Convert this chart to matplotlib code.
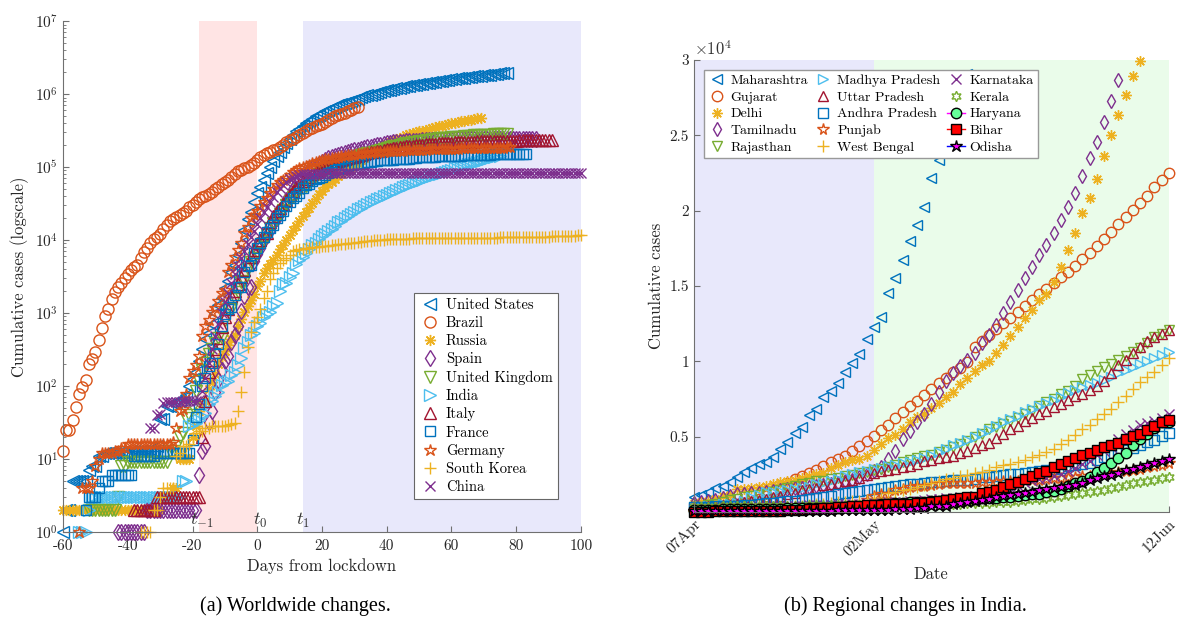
import numpy as np
import matplotlib
matplotlib.use('Agg')
import matplotlib.pyplot as plt
from matplotlib.ticker import FixedLocator, FuncFormatter, LogLocator, NullFormatter

plt.rcParams['font.family'] = ['cmr10', 'DejaVu Serif']
plt.rcParams['mathtext.fontset'] = 'cm'
plt.rcParams['axes.formatter.use_mathtext'] = True
plt.rcParams['axes.unicode_minus'] = False

# ---------------- (a) worldwide: cumulative cases vs days from lockdown ----------------
# each series: first day (relative to lockdown) and the daily cumulative counts after it
us_start = -60
us = [1, 2, 2, 5, 5, 5, 5, 5, 7,
      8, 8, 11, 11, 12, 12, 12, 12, 12, 12, 12, 12, 13, 13, 13, 13, 13, 13, 13, 13, 15, 35, 35, 53, 53, 59, 60, 62, 68,
      75, 100, 124, 158, 221, 319, 435, 541, 704, 994, 1301, 1630, 2183, 2770, 3613, 4596, 6344, 9197, 13779, 19367, 24192, 33592,
      43847, 53740, 65778, 83836, 101657, 121465, 140909, 161831, 188172, 213242,
      243622, 275367, 308650, 336802, 366317, 397121, 428654, 462780, 496535, 526396,
      555313, 580619, 607670, 636350, 667592, 699706, 732197, 759086, 784326, 811865,
      840351, 869170, 905358, 938154, 965785, 988197, 1012582, 1039909, 1069424, 1103461,
      1132539, 1158040, 1180375, 1204351, 1229331, 1257023, 1283929, 1309550, 1329260, 1347881,
      1369376, 1390406, 1417774, 1442824, 1467820, 1486757, 1508308, 1528568, 1551853, 1577147,
      1600937, 1622612, 1643499, 1662302, 1680913, 1699933, 1721750, 1746019, 1770165, 1790191,
      1811020, 1831821, 1851520, 1872660, 1897838, 1920061, 1938823, 1956421]

brazil_start = -60
brazil = [13, 25, 25, 34, 52, 77, 98, 121, 200, 234, 291, 428, 621, 904, 1128, 1546, 1924, 2247, 2554, 2985,
          3417, 3904, 4256, 4579, 5717, 6836, 7910, 9056, 10360, 11130, 12161, 14034, 16170, 18092, 19638, 20727,
          22192, 23430, 25262, 28320, 30425, 33682, 36658, 38654, 40743, 43079, 45757, 50036, 54043, 59324, 63100,
          67446, 73235, 79685, 87187, 92202, 97100, 101826, 108620, 115455, 126611, 135773, 146894, 156061, 162699,
          169594, 178214, 190137, 203165, 220291, 233511, 241080, 255368, 271885, 291579, 310087, 330890, 347398,
          363211, 374898, 391222, 411821, 438238, 465166, 498440, 514849, 526447, 555383, 584016, 614941, 645771,
          672846]

russia_start = -60
russia = [2, 2, 2, 2, 2, 2, 2, 2, 2, 2, 2, 2, 2, 2, 2, 2, 2, 2, 2, 2, 2, 2, 2, 2, 2, 2, 2, 2, 2, 2, 2,
          3, 3, 3, 4, 4, 10, 10, 10, 10, 20, 28, 45, 59, 63, 90, 114, 147, 199, 253, 306, 367, 438, 495, 658, 840,
          1036, 1264, 1534, 1836,
          2337, 2777, 3548, 4149, 4731, 5389, 6343, 7497, 8672, 10131, 11917, 13584, 15770, 18328, 21102, 24490,
          27938, 32008, 36793, 42853, 47121, 52763, 57999, 62773, 68622, 74588, 80949, 87147, 93558, 99399, 106498,
          114431, 124054, 134687, 145268, 155370, 165929, 177160, 187859, 198676, 209688, 221344, 232243, 242271,
          252245, 262843, 272043, 281752, 290678, 299941, 308705, 317554, 326448, 335882, 344481, 353427, 362342,
          370680, 379051, 387623, 396575, 405843, 414878, 423741, 432277, 440538, 449256, 458102, 467073, 476043]

spain_start = -43
spain = [1, 1, 1, 1, 1, 1, 1, 1, 1,
         2, 2, 2, 2, 2, 2, 2, 2, 2, 2, 2, 2, 2, 2, 2, 2,
         6, 13, 15, 32, 45, 84, 120, 165, 222, 259, 400, 500, 673, 1073, 1695, 2277, 2277, 5232,
         6391, 7798, 9942, 11748, 13910, 17963, 20410, 25374, 28603, 35136, 39885, 49515, 57786, 65719, 73235,
         80110, 87956, 95923, 104118, 112065, 119199, 126168, 131646, 136675, 141942, 148220, 153222, 158273,
         163027, 166831, 170099, 172541, 177633, 182816, 188068, 191726, 195944, 200210, 204178, 208389, 213024,
         215500, 217900, 220100, 222200, 224100, 225900, 227500, 229000, 230400, 231700, 232900, 234000, 235000,
         235900, 236700, 237500, 238200, 238800, 239400, 239900, 240400, 240800, 241200, 241600, 241900, 242200,
         242500, 242800, 243000, 243200, 243400, 243600, 243800, 244000, 244100, 244200, 244300, 244400, 244500,
         244600, 244700, 244800, 244900, 245000, 245100, 245200]

uk_start = -52
uk = [2, 2, 2, 2, 2, 2, 2, 2, 2, 3,
      8, 8, 9, 9, 9, 9, 9, 9, 9, 9, 9, 9, 9, 9, 9,
      13, 13, 15, 20, 23,
      36, 40, 51, 86, 116, 164, 207, 274, 322, 384, 459, 459, 802, 1144, 1145, 1551, 1960, 2642, 2716, 4014, 5067, 5745,
      6726, 8164, 9640, 11812, 14745, 17312, 19780, 22453, 25481,
      29865, 34173, 38689, 42477, 48436, 52279, 55949, 61474, 65872, 74605, 79874, 85206, 89570, 94845, 99483,
      104145, 109769, 115314, 121172, 125856, 130172, 134638, 139246, 144640, 149569, 154037, 158348, 162350,
      166441, 172481,
      178685, 183500, 187842, 191832, 196243, 202359, 207977, 212629, 216525, 220449, 224332, 227741, 230986,
      234440, 238004, 241461, 244995, 247709, 250138, 251000, 252246, 255544, 258504, 260916, 262547, 266599,
      268619, 270508, 272607, 274219, 276156,
      276900, 277985, 279856, 281661, 283311, 284868, 286194, 287399]

india_start = -55
india = [1, 1, 1, 2,
         3, 3, 3, 3, 3, 3, 3, 3, 3, 3, 3, 3, 3, 3, 3, 3, 3, 3, 3, 3, 3, 3, 3, 3, 3, 3, 3, 3,
         5, 5, 28, 30, 31, 34, 39, 43, 56, 62, 73, 82, 102, 113, 119, 142, 156, 194, 244, 330, 396, 499, 536,
         657, 727, 887, 987, 1024, 1251, 1397,
         1998, 2543, 2567, 3082, 3588, 4778, 5311, 5916, 6725, 7598, 8446, 9205, 10453, 11487, 12322, 13430,
         14352, 15722, 17615, 18539, 20080, 21370, 23077, 24530, 26283, 27890, 29451, 31324, 33062, 34863,
         36500, 38300, 40100, 42000, 44000, 46000, 48200, 50400, 52700, 55000, 57400, 59800, 62300, 64800,
         67400, 70000, 72700, 75400, 78200, 81000, 83900, 86800, 89800, 92800, 95900, 99000, 102200, 105400,
         108700, 112000, 115400, 118800, 122300, 125800, 129400, 133000, 136700, 140400, 144200]

italy_start = -38
italy = [2, 2, 2, 2, 2, 2, 2,
         3, 3, 3, 3, 3, 3, 3, 3, 3, 3, 3, 3, 3, 3,
         20, 62, 155, 229, 322, 453, 655, 888, 1128, 1694, 2036, 2502, 3089, 3858, 4636, 5883, 7375,
         9172, 10149, 12462, 12462, 17660, 21157, 24747, 27980, 31506, 35713, 41035, 47021, 53578, 59138, 63927,
         69176, 74386, 80589, 86498, 92472, 97689, 101739, 105792,
         110574, 115242, 119827, 124632, 128948, 132547, 135586, 139422, 143626, 147577, 152271, 156363, 159516,
         162488, 165155, 168941, 172434, 175925, 178972, 181228, 183957, 187327, 189973, 192994, 195351, 197675,
         199414, 201505, 203591, 205463,
         207428, 209328, 210717, 211938, 213013, 214457, 215858, 217185, 218268, 219070, 219814, 221216, 222104,
         223096, 223885, 224760, 225435, 225886, 226699, 227364, 228006, 228658, 229327, 229858, 230158, 230555,
         231139, 231732, 232248, 232664, 232997,
         233197, 233515, 233836, 234013, 234531, 234801, 234998, 235278]

france_start = -53
france = [2, 3, 3, 3, 4, 5, 5, 5,
          6, 6, 6, 6, 6, 6, 6,
          11, 11, 11, 11, 11, 11, 11,
          12, 12, 12, 12, 12, 12, 12, 12, 12, 12, 12,
          18, 38, 57, 100,
          130, 191, 204, 288, 380, 656, 957, 1134, 1217, 1792, 2289, 2289, 3672, 4480, 4513, 6650,
          7699, 9105, 10947, 12726, 14431, 16176, 19856, 22304, 25233, 29155, 32964, 37575, 40174, 44550, 52128,
          56989, 59105, 64338, 68605, 70478, 74390, 78167, 82048, 86334, 90676, 93790, 95403, 98076, 103573,
          106206, 108847, 109252, 111821, 112950, 117324, 119151, 120804, 121602, 123345, 124114, 124298, 125010,
          126835, 128442, 129581,
          130185, 130979, 131287, 131863, 132967, 137150, 137779, 138421, 138854, 139063, 139519, 140227, 140734,
          141356, 141919, 142411, 142903, 143427, 143845, 144556, 145279, 145746, 146122, 146419, 146800, 147125,
          147982, 148492, 149105, 149540, 150033,
          150361, 151000, 151616, 151984, 152455, 152946, 153140, 153506]

germany_start = -55
germany = [1, 4, 4, 4, 5,
           8, 10, 12, 12, 12, 12, 13, 13, 14, 14,
           16, 16, 16, 16, 16, 16, 16, 16, 16, 16, 16, 16, 16, 16,
           17, 27, 46, 48, 79,
           130, 159, 196, 262, 482, 670, 799, 1040, 1176, 1457, 1908, 2078, 3675, 4585, 5795, 7272, 9257, 12327,
           15320, 19848, 22213,
           24873, 29056, 32986, 37323, 43938, 50871, 57695, 62095, 66885, 71808,
           77872, 84794, 91159, 96092, 100123, 103374, 107663, 113296, 118181, 122171, 124908, 127854, 130072,
           131359, 134753, 137698, 141397, 143342, 145184, 147065, 148291, 150648, 153129, 154999, 156513, 157770,
           158758, 159912, 161539, 163009,
           164077, 164967, 165664, 166152, 167007, 168162, 169430, 170588, 171324, 171879, 172576, 173171, 174098,
           174478, 175233, 175752, 176369, 176551, 177778, 178473, 179021, 179710, 179986, 180328, 180600, 181200,
           181524, 182196, 182922, 183189, 183410,
           183594, 184121, 184472, 184924, 185450, 185750, 186109, 186506]

korea_start = -36
korea = [1, 1, 1, 1, 2, 2, 3, 4, 4, 4, 4, 11,
         12, 15, 15, 16, 19, 23, 24, 24, 27, 27, 28, 28, 28, 28, 28, 29, 30, 31, 46, 82, 156, 346, 556, 763,
         893, 1146, 1595, 2022, 2931,
         3526, 4212, 4812, 5328, 5766, 6284, 7041, 7313, 7478, 7513, 7755, 7869, 7979, 8086, 8162, 8236, 8320,
         8413, 8565, 8652, 8799, 8897, 8961, 9037, 9137, 9241, 9332, 9478, 9583, 9661, 9786,
         9887, 9976, 10062, 10156, 10237, 10284, 10331, 10384, 10423, 10450, 10480, 10512, 10537, 10564, 10591,
         10613, 10635, 10653, 10661, 10674, 10683, 10694, 10702, 10708, 10718, 10728, 10738, 10752, 10761, 10765,
         10774, 10780, 10793, 10801, 10804, 10806, 10810, 10822, 10840, 10874, 10909, 10936, 10962, 10991, 11018,
         11037, 11050, 11065, 11078, 11110, 11122, 11142, 11165, 11190, 11206, 11225, 11265, 11344, 11402, 11441,
         11468,
         11503, 11541, 11590, 11629]

china_start = -33
china = [27, 27, 40, 41, 58, 60, 60, 61, 61, 61, 62, 62, 62, 62, 63, 64,
         85, 130, 210, 320, 480, 700, 1000, 1400, 1900, 2600, 3400, 4400, 5600, 7100, 8900, 11000, 13500,
         16500, 20000, 24000, 28500, 33500, 39000, 45000, 51000, 57000, 63000, 68000, 72000, 75500, 78000, 80000,
         80800, 81100, 81300, 81500, 81600, 81700, 81800, 81900, 81950, 82000,
         82050, 82100, 82150, 82200, 82250, 82300, 82350, 82400, 82450, 82500,
         82550, 82600, 82650, 82700, 82750, 82800, 82850, 82900, 82950, 83000,
         83050, 83100, 83150, 83200, 83250, 83300, 83350, 83400, 83450, 83500,
         83550, 83580, 83610, 83640, 83670, 83700, 83720, 83740, 83760, 83780,
         83800, 83820, 83840, 83860, 83880, 83900, 83910, 83920, 83930, 83940,
         83950, 83960, 83970, 83980, 83990, 84000, 84010, 84020, 84030, 84040,
         84050, 84060, 84070, 84080, 84090, 84100, 84110, 84120, 84130, 84140,
         84150, 84160, 84170, 84180, 84190, 84200]

# lockdown phase boundaries (days)
t_m1, t_0, t_1 = -18, 0, 14

# ---------------- (b) India: cumulative cases per state, 07 Apr .. 12 Jun ----------------
date_ticks = [0, 25, 66]
date_labels = ['07Apr', '02May', '12Jun']

maharashtra = [1018, 1135, 1364, 1574, 1761, 1982, 2334, 2684, 2916, 3202, 3323, 3651, 4203, 4666, 5218, 5652,
               6427, 6817, 7628, 8068, 8590, 9318, 9915, 10498,
               11506, 12296, 12974, 14541, 15525, 16758, 17974, 19063, 20228, 22171, 23401, 24427, 25922, 27524,
               29100, 30706, 33053, 35058, 37136, 39297, 41642, 44582, 47190, 50231, 52667, 54758, 56948, 59546,
               62228, 65168, 67655,
               70013, 72300, 74860, 77793, 80229, 82968, 85975, 88528, 90787, 94041, 97648, 101141]
gujarat = [165, 179, 241, 262, 378, 516, 539, 617, 695, 871, 1099, 1376, 1604, 1939, 2178, 2407, 2624, 2815,
           3071, 3301, 3548, 3744, 4082, 4395,
           4721, 5054, 5428, 5804, 6245, 6625, 7012, 7402, 7797, 8195, 8541, 8903, 9268, 9592, 9931, 10988, 11379,
           11746, 12141, 12539, 12910, 13273, 13669, 14063, 14468, 14829, 15205, 15572, 15944, 16356, 16794,
           17217, 17632, 18117, 18584, 19094, 19592, 20070, 20545, 21014, 21554, 22032, 22527]
delhi = [576, 669, 720, 903, 1069, 1154, 1510, 1561, 1578, 1640, 1707, 1893, 2003, 2081, 2156, 2248, 2376, 2514,
         2625, 2918, 3108, 3314, 3439, 3515,
         3738, 4122, 4549, 4898, 5104, 5532, 5980, 6318, 6542, 6923, 7233, 7639, 7998, 8470, 8895, 9333, 9755,
         10054, 10554, 11088, 11659, 12319, 12910, 13418, 14053, 14465, 15257, 16281, 17386, 18549, 19844,
         20834, 22132, 23645, 25004, 26334, 27654, 28936, 29943, 31309, 32810, 34687, 36824]
tamilnadu = [621, 690, 738, 834, 969, 1075, 1173, 1204, 1242, 1267, 1323, 1372, 1477, 1520, 1596, 1629, 1683,
             1755, 1821, 1885, 1937, 2058, 2162, 2323,
             2526, 2757, 3023, 3550, 4058, 4829, 5409, 6009, 6535, 7204, 8002, 8718, 9227, 9674, 10108, 10585,
             11224, 11760, 12448, 13191, 13967, 14753, 15512, 16277, 17082, 17728, 18545, 19372, 20246, 21184, 22333,
             23495, 24586, 25872, 27256, 28694, 30152, 31667, 33229, 34914, 36841, 38716, 40698]
rajasthan = [328, 363, 463, 561, 700, 804, 873, 1005, 1076, 1131, 1229, 1351, 1478, 1576, 1735, 1868, 1964, 2034,
             2083, 2185, 2262, 2364, 2438, 2584,
             2666, 2772, 2886, 3009, 3158, 3317, 3453, 3579, 3708, 3814, 3988, 4126, 4328, 4534, 4727, 4960, 5202,
             5507, 5629, 5845, 6015, 6227, 6542, 6742, 7028, 7300, 7536, 7816, 8067, 8365, 8831,
             9100, 9373, 9652, 9862, 10084, 10331, 10599, 10876, 11245, 11600, 11838, 12068]
madhya_pradesh = [268, 313, 411, 435, 532, 562, 604, 741, 987, 1120, 1310, 1355, 1407, 1485, 1552, 1592, 1699,
                  1846, 1945, 2096, 2165, 2368, 2561, 2660,
                  2719, 2846, 2942, 3049, 3138, 3252, 3341, 3457, 3614, 3785, 3986, 4173, 4426, 4595, 4789, 4977,
                  5236, 5465, 5735, 5981, 6170, 6371, 6665, 6859, 7024, 7261, 7453, 7645, 7891, 8089, 8283,
                  8420, 8588, 8762, 8996, 9228, 9401, 9638, 9849, 10049, 10241, 10443, 10641]
uttar_pradesh = [332, 361, 410, 433, 452, 483, 558, 660, 735, 805, 846, 974, 1084, 1184, 1294, 1449, 1510, 1621,
                 1778, 1843, 1955, 2053, 2134, 2281,
                 2455, 2626, 2742, 2766, 2880, 2998, 3071, 3214, 3373, 3467, 3573, 3664, 3729, 3902, 4057, 4259,
                 4464, 4605, 4926, 5175, 5515, 5735, 6017, 6268, 6532, 6724, 6991, 7170, 7445, 7701, 7823,
                 8075, 8361, 8729, 9237, 9733, 10103, 10536, 10947, 11335, 11610, 11835, 12088]
andhra_pradesh = [314, 348, 363, 381, 405, 420, 432, 473, 502, 525, 572, 603, 647, 722, 757, 813, 893, 955, 1016,
                  1097, 1177, 1259, 1332, 1403,
                  1463, 1525, 1583, 1650, 1717, 1777, 1833, 1887, 1930, 1980, 2018, 2051, 2100, 2137, 2157, 2205,
                  2307, 2355, 2407, 2452, 2514, 2561, 2627, 2671, 2719, 2780, 2841, 2944, 3042, 3118, 3200,
                  3279, 3461, 3676, 3791, 3971, 4126, 4250, 4460, 4659, 4813, 5029, 5247]
punjab = [79, 99, 106, 132, 151, 167, 170, 176, 186, 197, 202, 211, 219, 245, 251, 257, 277, 283, 298, 313, 322,
          330, 357, 480,
          772, 1102, 1232, 1233, 1451, 1526, 1644, 1731, 1762, 1823, 1877, 1914, 1924, 1935, 1946, 1964, 1980,
          2002, 2028, 2045, 2060, 2081, 2106, 2139, 2158, 2197, 2233, 2263, 2301, 2342, 2376,
          2415, 2461, 2515, 2608, 2663, 2719, 2805, 2887, 2986, 3063, 3140, 3267]
west_bengal = [91, 99, 103, 116, 126, 134, 152, 190, 213, 231, 255, 287, 310, 339, 392, 423, 456, 514, 571, 611,
               649, 697, 725, 758,
               795, 922, 963, 1259, 1344, 1456, 1548, 1678, 1786, 1939, 2063, 2173, 2290, 2377, 2461, 2576, 2677,
               2825, 2961, 3103, 3197, 3332, 3459, 3667, 3816, 4009, 4192, 4536, 4813, 5130, 5501,
               5772, 6168, 6508, 6876, 7303, 7738, 8187, 8613, 8985, 9328, 9768, 10244]
karnataka = [175, 181, 197, 207, 214, 232, 247, 260, 279, 315, 359, 371, 390, 408, 418, 427, 445, 474, 489, 503,
             512, 523, 535, 565,
             589, 601, 614, 651, 673, 693, 705, 753, 794, 848, 862, 925, 951, 987, 1032, 1079, 1147, 1246, 1395,
             1462, 1605, 1743, 1959, 2089, 2182, 2283, 2418, 2533, 2711, 2922, 3221,
             3408, 3796, 4063, 4320, 4835, 5213, 5452, 5760, 5921, 6041, 6245, 6516]
kerala = [336, 345, 357, 364, 373, 375, 378, 379, 387, 394, 395, 396, 399, 408, 426, 437, 447, 450, 457, 458, 469,
          485, 495, 497,
          497, 499, 499, 500, 502, 503, 503, 505, 505, 512, 519, 524, 534, 560, 576, 587, 601, 630, 642, 667, 690,
          732, 794, 847, 896, 963, 1003, 1088, 1150, 1209, 1270,
          1327, 1412, 1494, 1588, 1699, 1807, 1913, 2004, 2096, 2161, 2244, 2322]
haryana = [147, 154, 169, 169, 177, 181, 185, 199, 205, 205, 213, 225, 233, 254, 254, 264, 270, 275, 289, 296, 301,
           308, 311, 357,
           376, 442, 517, 548, 594, 625, 647, 675, 703, 730, 754, 780, 793, 818, 862, 887, 910, 928, 964, 993, 1031,
           1067, 1131, 1184, 1213, 1305, 1381, 1504, 1721, 1923, 2091,
           2356, 2652, 2954, 3281, 3597, 3952, 4448, 4854, 5209, 5579, 5968, 6000]
bihar = [32, 38, 39, 60, 64, 65, 65, 66, 70, 74, 83, 86, 93, 113, 126, 143, 176, 223, 250, 277, 346, 366, 403, 425,
         466, 481, 503, 528, 542, 550, 571, 579, 611, 696, 747, 831, 879, 940, 994, 1018, 1262, 1326, 1498, 1674,
         1872, 1982, 2177, 2380, 2587, 2737, 2983, 3185, 3359, 3565, 3807,
         3945, 4096, 4326, 4452, 4598, 4831, 5070, 5202, 5455, 5710, 5983, 6096]
odisha = [42, 42, 44, 48, 50, 54, 54, 60, 60, 60, 60, 61, 68, 74, 79, 83, 89, 90, 103, 103, 108, 118, 125, 143,
          154, 157, 162, 169, 185, 205, 219, 271, 294, 377, 414, 437, 538, 611, 672, 737, 828, 876, 978, 1052, 1103,
          1189, 1269, 1336, 1438, 1517, 1593, 1660, 1723, 1819, 1948,
          2104, 2245, 2388, 2478, 2608, 2781, 2856, 2994, 3140, 3250, 3386, 3498]

blue, orange, yellow, purple = '#0072BD', '#D95319', '#EDB120', '#7E2F8E'
green, cyan, red = '#77AC30', '#4DBEEE', '#A2142F'
asterisk = (8, 2, 0)     # MATLAB '*'
hexagram = (6, 1, 0)     # MATLAB 'h'

fig = plt.figure(figsize=(11.78, 6.23), dpi=100)
ax1 = fig.add_axes([0.0535, 0.146, 0.4397, 0.820])
ax2 = fig.add_axes([0.589, 0.178, 0.4032, 0.7255])

# ---- left panel ----
ax1.axvspan(t_m1, t_0, color='#FFE4E4', zorder=0, lw=0)
ax1.axvspan(t_1, 100, color='#E8E8FB', zorder=0, lw=0)

world = [
    ('United States', us_start, us, '<', blue, 8),
    ('Brazil', brazil_start, brazil, 'o', orange, 8),
    ('Russia', russia_start, russia, asterisk, yellow, 8),
    ('Spain', spain_start, spain, 'd', purple, 8),
    ('United Kingdom', uk_start, uk, 'v', green, 8),
    ('India', india_start, india, '>', cyan, 8),
    ('Italy', italy_start, italy, '^', red, 8),
    ('France', france_start, france, 's', blue, 7.5),
    ('Germany', germany_start, germany, '*', orange, 9),
    ('South Korea', korea_start, korea, '+', yellow, 9),
    ('China', china_start, china, 'x', purple, 7.5),
]
for name, start, vals, mk, col, ms in world:
    days = start + np.arange(len(vals))
    ax1.plot(days, vals, ls='none', marker=mk, ms=ms, mfc='none', mec=col, mew=1.0,
             label=name, clip_on=False)

ax1.set_yscale('log')
ax1.set_xlim(-60, 100)
ax1.set_ylim(1, 1e7)
ax1.set_xticks(np.arange(-60, 101, 20))
ax1.xaxis.set_major_formatter(FuncFormatter(lambda v, p: '%d' % v))
ax1.yaxis.set_major_locator(LogLocator(base=10, numticks=10))
ax1.yaxis.set_minor_locator(LogLocator(base=10, subs=np.arange(2, 10), numticks=10))
ax1.yaxis.set_minor_formatter(NullFormatter())
ax1.set_xlabel('Days from lockdown', fontsize=12)
ax1.set_ylabel('Cumulative cases (logscale)', fontsize=12)

for tx, lab in [(t_m1 + 1, r'$t_{-1}$'), (t_0 + 1, r'$t_0$'), (t_1, r'$t_1$')]:
    ax1.text(tx, 1.08, lab, ha='center', va='bottom', fontsize=13, color='#333333')

leg1 = ax1.legend(loc='lower right', bbox_to_anchor=(0.969, 0.05), fontsize=10.5, frameon=True,
                  fancybox=False, edgecolor='#666666', framealpha=1, labelspacing=0.3,
                  handletextpad=0.4, borderpad=0.35, handlelength=1.4)
leg1.get_frame().set_linewidth(0.8)

# ---- right panel ----
ax2.axvspan(0, 25, color='#E8E8FB', zorder=0, lw=0)
ax2.axvspan(25, 66, color='#EAFCEA', zorder=0, lw=0)

states = [
    ('Maharashtra', maharashtra, dict(marker='<', mfc='none', mec=blue, ls='none')),
    ('Gujarat', gujarat, dict(marker='o', mfc='none', mec=orange, ls='none')),
    ('Delhi', delhi, dict(marker=asterisk, mfc='none', mec=yellow, ls='none')),
    ('Tamilnadu', tamilnadu, dict(marker='d', mfc='none', mec=purple, ls='none')),
    ('Rajasthan', rajasthan, dict(marker='v', mfc='none', mec=green, ls='none')),
    ('Madhya Pradesh', madhya_pradesh, dict(marker='>', mfc='none', mec=cyan, ls='none')),
    ('Uttar Pradesh', uttar_pradesh, dict(marker='^', mfc='none', mec=red, ls='none')),
    ('Andhra Pradesh', andhra_pradesh, dict(marker='s', mfc='none', mec=blue, ls='none', ms=7)),
    ('Punjab', punjab, dict(marker='*', mfc='none', mec=orange, ls='none', ms=8.5)),
    ('West Bengal', west_bengal, dict(marker='+', mfc='none', mec=yellow, ls='none', ms=8.5)),
    ('Karnataka', karnataka, dict(marker='x', mfc='none', mec=purple, ls='none', ms=7)),
    ('Kerala', kerala, dict(marker=hexagram, mfc='none', mec=green, ls='none')),
    ('Haryana', haryana, dict(marker='o', mfc='#66FF99', mec='black', color='magenta', ls='-')),
    ('Bihar', bihar, dict(marker='s', mfc='red', mec='black', color='red', ls='-')),
    ('Odisha', odisha, dict(marker='*', mfc='magenta', mec='black', color='blue', ls='-', ms=9)),
]
for name, vals, style in states:
    v = np.array(vals, dtype=float)
    d = np.arange(len(v))
    keep = v <= 30000
    style = dict(style)
    ms = style.pop('ms', 7.5)
    ax2.plot(d[keep], v[keep], ms=ms, mew=1.0, lw=1.0, label=name, clip_on=False, **style)

ax2.set_xlim(0, 66)
ax2.set_ylim(0, 30000)
ax2.yaxis.set_major_locator(FixedLocator([5000, 10000, 15000, 20000, 25000, 30000]))
ax2.yaxis.set_major_formatter(FuncFormatter(lambda v, p: f'{v / 1e4:g}'))
ax2.set_xticks(date_ticks)
ax2.set_xticklabels(date_labels, rotation=45, ha='right', va='top', rotation_mode='anchor')
ax2.text(0.0, 1.004, r'$\times10^{4}$', transform=ax2.transAxes, ha='left', va='bottom', fontsize=12,
         color='#333333')
ax2.set_xlabel('Date', fontsize=12, labelpad=6)
ax2.set_ylabel('Cumulative cases', fontsize=12)

leg2 = ax2.legend(loc='upper left', bbox_to_anchor=(0.006, 0.994), ncol=3, fontsize=10, frameon=True,
                  fancybox=False, edgecolor='#999999', framealpha=1, labelspacing=0.3,
                  handletextpad=0.35, borderpad=0.3, handlelength=1.3, columnspacing=0.45)
leg2.get_frame().set_linewidth(1.0)

for ax in (ax1, ax2):
    for side in ('top', 'right'):
        ax.spines[side].set_visible(False)
    for side in ('left', 'bottom'):
        ax.spines[side].set_color('#707070')
        ax.spines[side].set_linewidth(0.8)
    ax.tick_params(which='both', direction='in', colors='#707070', labelcolor='#262626', labelsize=11)
    ax.tick_params(which='major', length=4)
    ax.tick_params(which='minor', length=2.2)
    ax.xaxis.label.set_color('#262626')
    ax.yaxis.label.set_color('#262626')
ax1.tick_params(axis='x', pad=5)

fig.text(295 / 1178, 1 - 606 / 623, '(a) Worldwide changes.', ha='center', va='center', fontsize=14.5,
         family='Liberation Serif')
fig.text(905 / 1178, 1 - 606 / 623, '(b) Regional changes in India.', ha='center', va='center', fontsize=14.5,
         family='Liberation Serif')

fig.savefig('out.png', dpi=100)
